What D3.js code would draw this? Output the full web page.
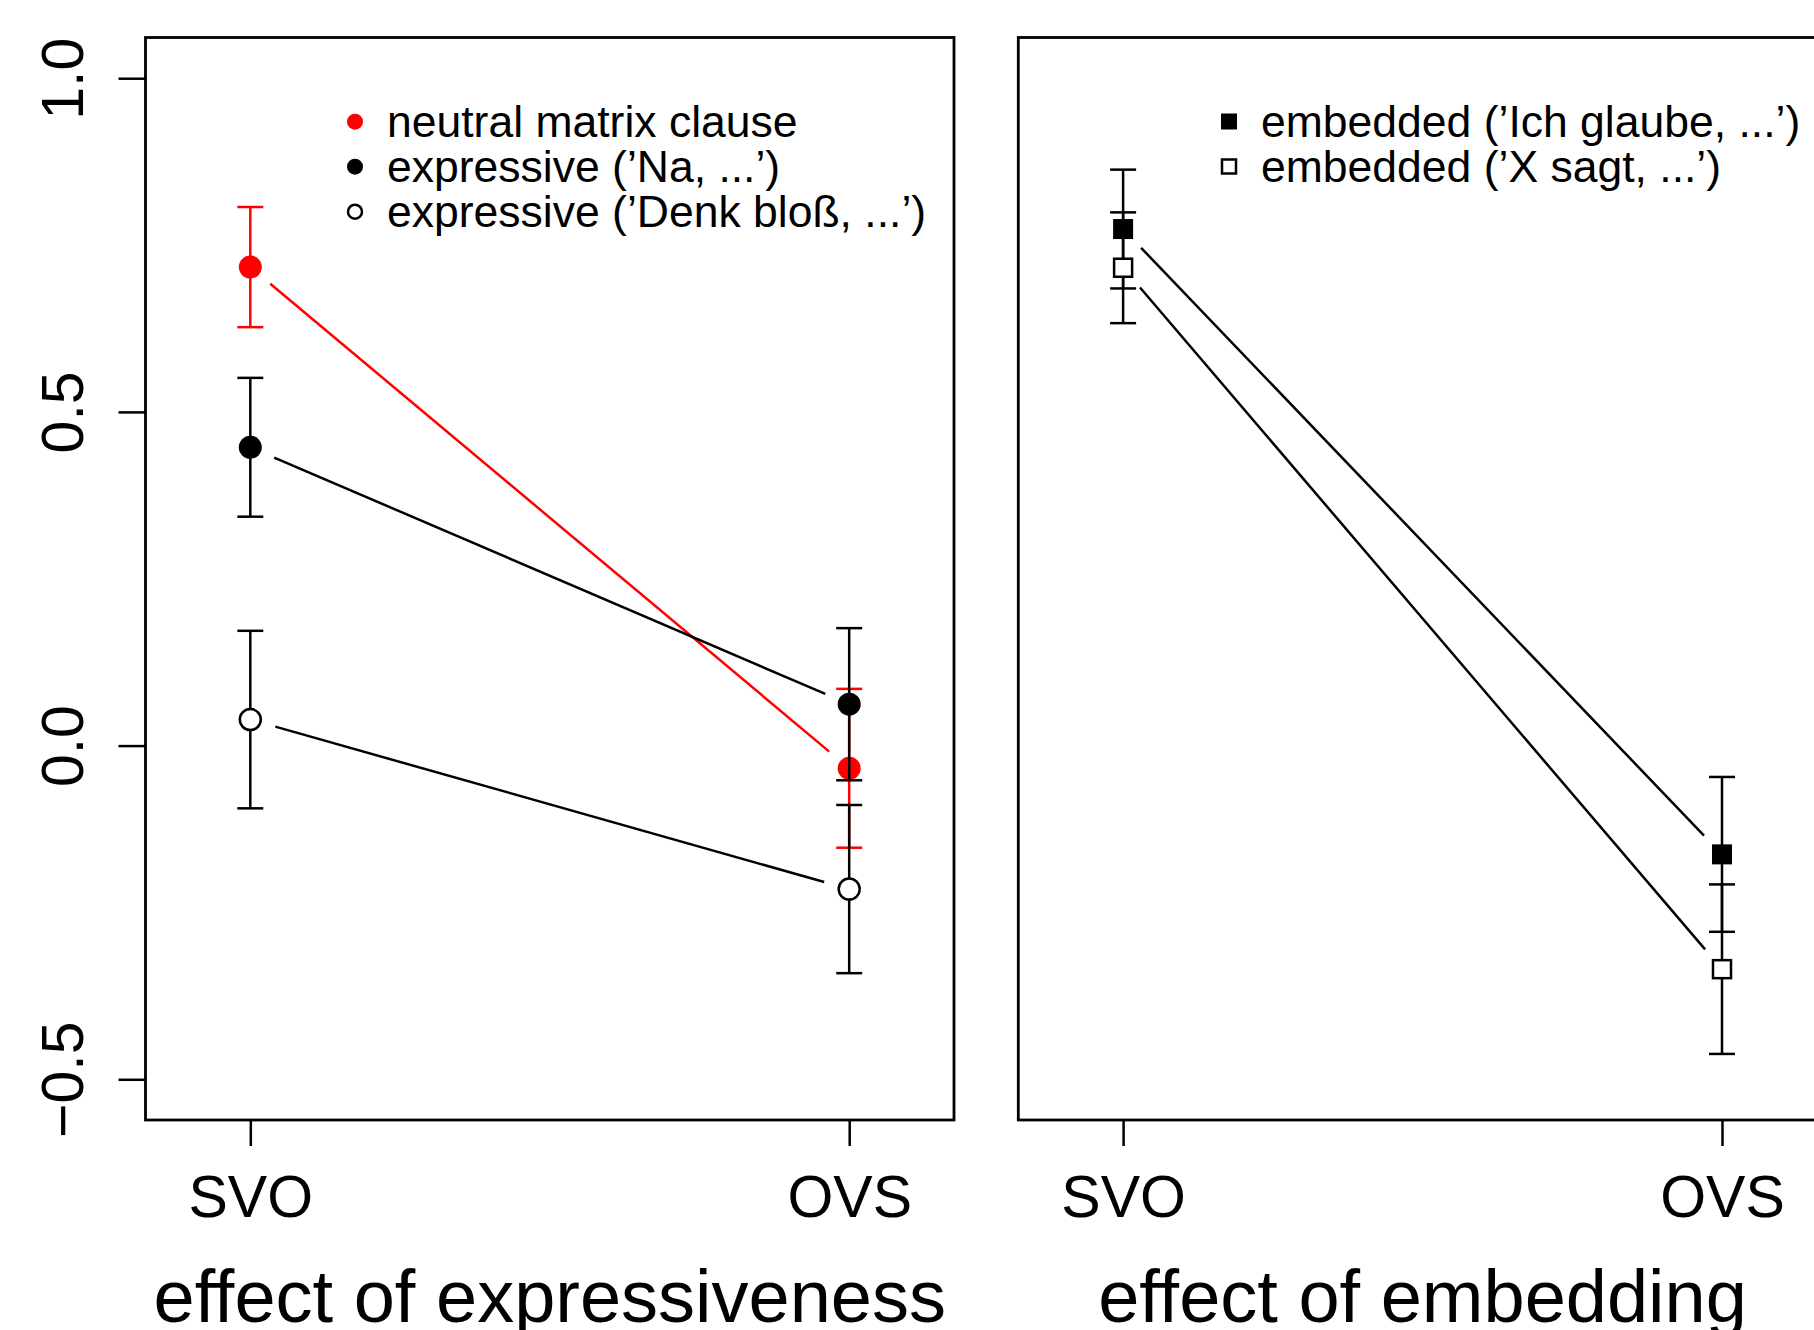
<!DOCTYPE html>
<meta charset="utf-8">
<style>
body { margin: 0; background: #fff; }
text { font-family: "Liberation Sans", Arial, Helvetica, sans-serif; fill: #000; }
.tick line { stroke: #000; stroke-width: 2.5; }
.domain { display: none; }
</style>
<body>
<script src="https://cdn.jsdelivr.net/npm/d3@7"></script>
<script>

// word orders on the x axis
var orders = ["SVO", "OVS"];
var yTicks = [-0.5, 0, 0.5, 1.0];

// left panel: effect of expressiveness (mean, error half-width)
var neutralMean = [0.717, -0.034], neutralErr = [0.090, 0.119];
var naMean      = [0.447,  0.062], naErr      = [0.104, 0.114];
var denkMean    = [0.039, -0.215], denkErr    = [0.133, 0.126];

// right panel: effect of embedding
var glaubeMean = [0.774, -0.163], glaubeErr = [0.089, 0.116];
var sagtMean   = [0.716, -0.335], sagtErr   = [0.083, 0.127];

var leftLegend  = ["neutral matrix clause", "expressive (\u2019Na, ...\u2019)", "expressive (\u2019Denk blo\u00df, ...\u2019)"];
var rightLegend = ["embedded (\u2019Ich glaube, ...\u2019)", "embedded (\u2019X sagt, ...\u2019)"];
var xTitles = ["effect of expressiveness", "effect of embedding"];

var W = 1814, H = 1330;
var svg = d3.select("body").append("svg").attr("width", W).attr("height", H);

var plotTop = 37.5, plotBottom = 1120, boxW = 808.5;
var y = d3.scaleLinear().domain([-0.561, 1.061]).range([plotBottom, plotTop]);

function makeX(left) {
    return d3.scaleLinear().domain([0.825, 2.175]).range([left, left + boxW]);
}
var xL = makeX(145.5), xR = makeX(1018.3);

var gap = 26; // R type="b" gap around points

function panel(x, title) {
    var g = svg.append("g");
    // x axis
    var ax = g.append("g").attr("transform", "translate(0," + plotBottom + ")")
        .call(d3.axisBottom(x).tickValues([1, 2]).tickFormat(function(d){ return orders[d-1]; }).tickSize(26));
    ax.selectAll("text").attr("y", 97).attr("dy", 0).style("font-size", "59px");
    // title
    g.append("text").attr("x", (x.range()[0] + x.range()[1]) / 2).attr("y", 1322)
        .attr("text-anchor", "middle").style("font-size", "74px").text(title);
    // box
    g.append("rect").attr("x", x.range()[0]).attr("y", plotTop)
        .attr("width", boxW).attr("height", plotBottom - plotTop)
        .attr("fill", "none").attr("stroke", "#000").attr("stroke-width", 2.8);
    return g;
}

function series(g, x, means, errs, color, shape, filled) {
    var pts = means.map(function(m, i){ return {x: x(i+1), y: y(m), lo: y(m - errs[i]), hi: y(m + errs[i])}; });
    // connecting line with gaps
    for (var i = 0; i < pts.length - 1; i++) {
        var a = pts[i], b = pts[i+1];
        var dx = b.x - a.x, dy = b.y - a.y, len = Math.sqrt(dx*dx + dy*dy);
        var ux = dx/len, uy = dy/len;
        g.append("line")
            .attr("x1", a.x + ux*gap).attr("y1", a.y + uy*gap)
            .attr("x2", b.x - ux*gap).attr("y2", b.y - uy*gap)
            .attr("stroke", color).attr("stroke-width", 2.5);
    }
    // error bars
    var eb = g.append("g").attr("stroke", color).attr("stroke-width", 2.5);
    pts.forEach(function(p){
        eb.append("line").attr("x1", p.x).attr("x2", p.x).attr("y1", p.lo).attr("y2", p.hi);
        eb.append("line").attr("x1", p.x - 13).attr("x2", p.x + 13).attr("y1", p.lo).attr("y2", p.lo);
        eb.append("line").attr("x1", p.x - 13).attr("x2", p.x + 13).attr("y1", p.hi).attr("y2", p.hi);
    });
    // points
    pts.forEach(function(p){ marker(g, p.x, p.y, shape, filled, color, shape == "circle" ? 11.5 : 10); });
}

function marker(g, cx, cy, shape, filled, color, r) {
    if (shape == "circle") {
        g.append("circle").attr("cx", cx).attr("cy", cy).attr("r", filled ? r : r - 1)
            .attr("fill", filled ? color : "#fff").attr("stroke", color).attr("stroke-width", filled ? 0 : 2.5);
    } else {
        var s = filled ? 2*r : 2*r - 2;
        g.append("rect").attr("x", cx - s/2).attr("y", cy - s/2).attr("width", s).attr("height", s)
            .attr("fill", filled ? color : "#fff").attr("stroke", color).attr("stroke-width", filled ? 0 : 2.5);
    }
}

function legend(g, x0, y0, labels, shapes, fills, colors, r) {
    labels.forEach(function(t, i){
        var cy = y0 + i*45;
        marker(g, x0, cy, shapes[i], fills[i], colors[i], r);
        g.append("text").attr("x", x0 + 32).attr("y", cy + 15).style("font-size", "44.5px").text(t);
    });
}

// ---------- left panel ----------
var gl = panel(xL, xTitles[0]);
var yAx = gl.append("g").attr("transform", "translate(" + xL.range()[0] + ",0)")
    .call(d3.axisLeft(y).tickValues(yTicks).tickSize(27)
        .tickFormat(function(d){ return (d < 0 ? "\u2212" : "") + Math.abs(d).toFixed(1); }));
yAx.selectAll("text").attr("transform", "rotate(-90)").attr("x", 0).attr("y", -62.5).attr("dy", 0)
    .attr("text-anchor", "middle").style("font-size", "59px");

series(gl, xL, neutralMean, neutralErr, "#ff0000", "circle", true);
series(gl, xL, naMean, naErr, "#000", "circle", true);
series(gl, xL, denkMean, denkErr, "#000", "circle", false);
legend(gl, 355, 121.7, leftLegend, ["circle","circle","circle"], [true,true,false], ["#ff0000","#000","#000"], 8);

// ---------- right panel ----------
var gr = panel(xR, xTitles[1]);
series(gr, xR, glaubeMean, glaubeErr, "#000", "square", true);
series(gr, xR, sagtMean, sagtErr, "#000", "square", false);
legend(gr, 1229, 121.5, rightLegend, ["square","square"], [true,false], ["#000","#000"], 8);

</script>
</body>
